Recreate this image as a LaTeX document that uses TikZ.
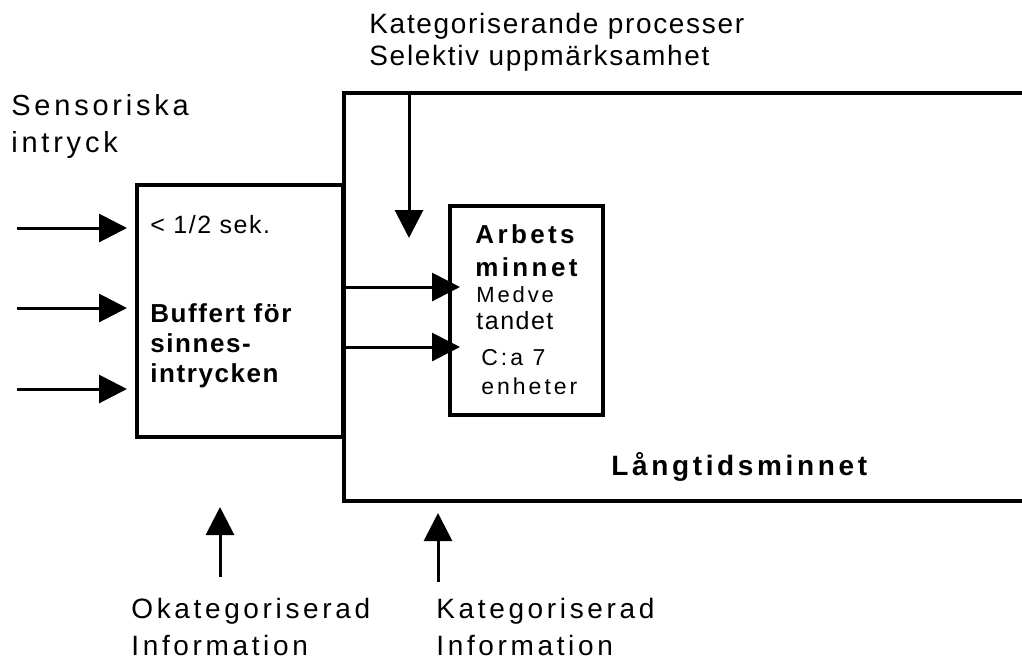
\documentclass[tikz,border=0pt]{standalone}
\usepackage{fontspec}
\newfontfamily\tightfont[LetterSpace=6]{Liberation Sans}
\newfontfamily\widefont[LetterSpace=13]{Liberation Sans}
\usetikzlibrary{arrows.meta, positioning}
\tikzset{
    box/.style={rectangle, draw, line width=2pt, inner sep=0pt, outer sep=0pt, anchor=north west},
    txt/.style={inner sep=0pt, align=left, anchor=north west, font=\widefont\fontsize{14}{18.5}\selectfont},
    arrow/.style={-{Triangle[length=14pt, width=14pt]}, line width=1.5pt}
}

\begin{document}
\begin{tikzpicture}[x=0.5pt, y=-0.5pt]
            \useasboundingbox (0,0) rectangle (1022,661);
            \clip (0,0) rectangle (1022,661);
            \fill[white] (0,0) rectangle (1022,661);
            % boxes
            \node (ltm) [box, minimum width=350pt, minimum height=204pt] at (344,93) {};
            \node (buffer) [box, minimum width=103pt, minimum height=126pt] at (137,185) {};
            \node (arbets) [box, minimum width=76.5pt, minimum height=104.5pt] at (450,206) {};
            % texts
            \node (sensor) [txt, font=\widefont\fontsize{14.5}{18.5}\selectfont] at (11,94) {Sensoriska\\intryck};
            \node (cat) [txt, font=\tightfont\fontsize{14}{16}\selectfont] at (369,13) {Kategoriserande processer\\Selektiv uppmärksamhet};
            \node (sek) [txt, anchor=base west, font=\tightfont\fontsize{12.5}{14}\selectfont] at (150,233) {< 1/2 sek.};
            \node (bufftext) [txt, font=\tightfont\bfseries\fontsize{13}{15}\selectfont] at (150,303) {Buffert för\\sinnes-\\intrycken};
            \node (arbtitle) [txt, font=\widefont\bfseries\fontsize{13}{16.5}\selectfont] at (475,224) {Arbets\\minnet};
            \node (medv) [txt, font=\widefont\fontsize{11}{13.5}\selectfont] at (476,286) {Medve\\{\tightfont\fontsize{12.5}{13.5}\selectfont tandet}};
            \node (units) [txt, font=\widefont\fontsize{11.5}{14.5}\selectfont] at (481,349) {C:a 7\\enheter};
            \node (ltmtext) [txt, anchor=base west, font=\widefont\bfseries\fontsize{14}{17}\selectfont] at (611,475) {Långtidsminnet};
            \node (okat) [txt] at (131,598) {Okategoriserad\\Information};
            \node (kat) [txt] at (436,598) {Kategoriserad\\Information};
            % arrows
            \foreach \y [count=\i] in {228,308,389} {
                \coordinate (in\i) at (17,\y);
                \draw[arrow, shorten >=5pt] (in\i) -- (in\i -| buffer.west);
            }
            \foreach \y in {287,347}
                \draw[arrow, shorten >=-5pt] (ltm.west |- 0,\y) -- (arbets.west |- 0,\y);
            \coordinate (attn) at (409,238);
            \draw[arrow] (ltm.north -| attn) -- (attn);
            \coordinate (raw) at (220,577);
            \draw[arrow, shorten >=35pt] (raw) -- (raw |- buffer.south);
            \coordinate (sorted) at (438,582);
            \draw[arrow, shorten >=6pt] (sorted) -- (sorted |- ltm.south);
        \end{tikzpicture}
\end{document}
